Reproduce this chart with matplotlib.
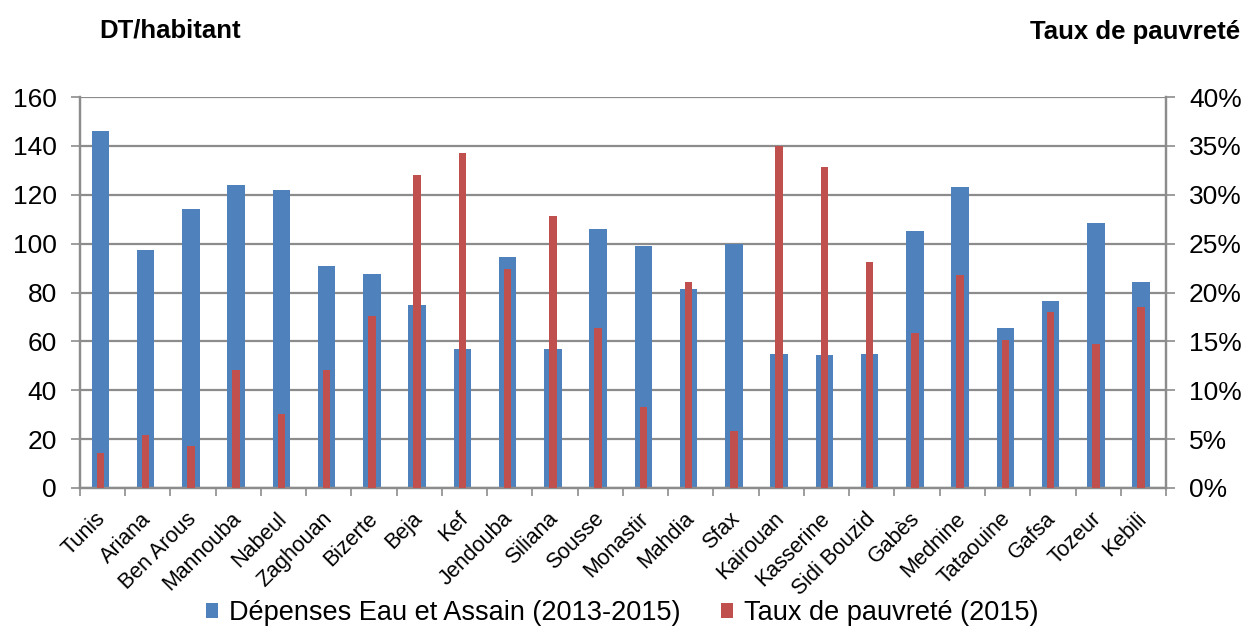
import numpy as np
import matplotlib.pyplot as plt
from matplotlib.ticker import FuncFormatter

plt.rcParams['font.family'] = ['Liberation Sans', 'DejaVu Sans']

gouvernorats = ['Tunis', 'Ariana', 'Ben Arous', 'Mannouba', 'Nabeul', 'Zaghouan', 'Bizerte',
                'Beja', 'Kef', 'Jendouba', 'Siliana', 'Sousse', 'Monastir', 'Mahdia', 'Sfax',
                'Kairouan', 'Kasserine', 'Sidi Bouzid', 'Gabès', 'Mednine', 'Tataouine',
                'Gafsa', 'Tozeur', 'Kebili']
depenses = [146, 97.5, 114, 124, 122, 91, 87.5, 75, 57, 94.5, 57, 106, 99, 81.5, 100,
            55, 54.5, 55, 105, 123, 65.5, 76.5, 108.5, 84.5]
pauvrete = [3.6, 5.4, 4.3, 12.1, 7.6, 12.1, 17.6, 32.0, 34.3, 22.4, 27.8, 16.4, 8.3, 21.1,
            5.8, 35.0, 32.8, 23.1, 15.9, 21.8, 15.1, 18.0, 14.7, 18.5]

blue = '#4f81bd'
red = '#c0504d'
grey = '#8c8c8c'

fig = plt.figure(figsize=(12.44, 6.3), dpi=100)
ax = fig.add_axes([0.0643, 0.2254, 0.8730, 0.6206])
ax2 = ax.twinx()

x = np.arange(len(gouvernorats))
b1 = ax.bar(x - 0.05, depenses, width=0.39, color=blue, zorder=2)
b2 = ax2.bar(x - 0.05, pauvrete, width=0.17, color=red, zorder=3)

ax.set_xlim(-0.5, len(gouvernorats) - 0.5)
ax.set_ylim(0, 160)
ax.set_yticks(range(0, 161, 20))
ax2.set_ylim(0, 40)
ax2.set_yticks(range(0, 41, 5))
ax2.yaxis.set_major_formatter(FuncFormatter(lambda v, p: '%d%%' % v))

ax.yaxis.grid(True, color=grey, linewidth=1.6, zorder=0)
ax.set_axisbelow(True)

# category names under each bar, tick marks between categories
ax.set_xticks(x)
ax.set_xticklabels(gouvernorats, rotation=45, ha='right', va='center',
                   rotation_mode='anchor', fontsize=15.5)
ax.set_xticks(np.arange(-0.5, len(gouvernorats), 1), minor=True)
ax.tick_params(axis='x', which='major', length=0, pad=20)
ax.tick_params(axis='x', which='minor', length=6, width=1.2, color=grey, direction='out')
ax.tick_params(axis='y', length=6.5, width=1.2, color=grey, labelsize=19, pad=10)
ax2.tick_params(axis='y', length=6.5, width=1.2, color=grey, labelsize=19, pad=10)

for a in (ax, ax2):
    for s in a.spines.values():
        s.set_color(grey)
        s.set_linewidth(1.6)
    a.spines['top'].set_visible(False)

fig.text(0.080, 0.952, 'DT/habitant', fontsize=18.5, fontweight='bold', va='center')
fig.text(0.997, 0.949, 'Taux de pauvreté', fontsize=18.5, fontweight='bold', ha='right',
         va='center')

fig.legend([b1, b2], ['Dépenses Eau et Assain (2013-2015)', 'Taux de pauvreté (2015)'],
           loc='center', bbox_to_anchor=(0.5, 0.027), ncol=2, frameon=False, fontsize=19.5,
           handlelength=0.45, handleheight=0.45, handletextpad=0.4, columnspacing=1.5)

fig.savefig('out.png', dpi=100)
